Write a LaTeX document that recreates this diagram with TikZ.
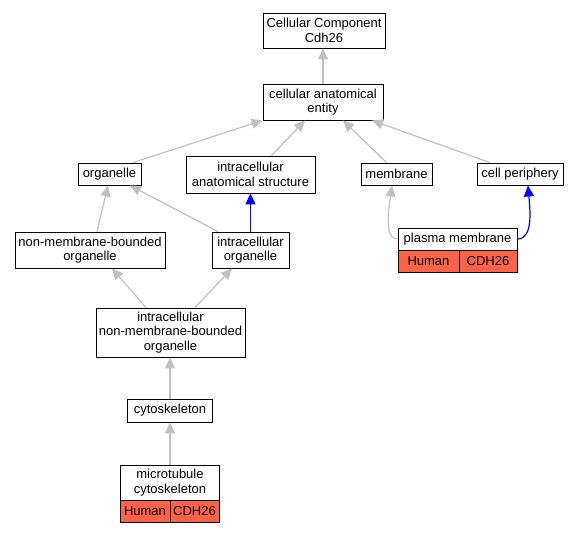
\documentclass[tikz,border=0pt]{standalone}
\usepackage{fontspec}
\setmainfont{Liberation Sans}
\usetikzlibrary{arrows.meta, positioning}
\definecolor{genred}{RGB}{255,99,71}
\definecolor{isagray}{RGB}{192,192,192}
\tikzset{
	term/.style={draw, line width=0.9pt, fill=white, inner sep=0pt, align=center, font=\fontsize{13}{14.5}\selectfont}, % Cajas de los terminos
	gen/.style={term, fill=genred}, % Celdas de la especie y el gen
	isa/.style={-{Triangle[length=11pt,width=10pt]}, draw=isagray, line width=1.2pt}, % Relacion is a
	partof/.style={isa, draw=blue} % Relacion part of
}

\begin{document}
\begin{tikzpicture}[x=1pt, y=-1pt]
	\useasboundingbox (0,0) rectangle (579,533);
	\node[term, minimum width=122pt, minimum height=35pt] (cc) at (324,30.5) {Cellular Component\\Cdh26};
	\node[term, minimum width=120pt, minimum height=36pt] (cae) at (323,102) {cellular anatomical\\entity};
	\node[term, minimum width=63pt, minimum height=22pt] (org) at (109.5,174) {organelle};
	\node[term, minimum width=129pt, minimum height=37pt] (ias) at (250.5,174.5) {intracellular\\anatomical structure};
	\node[term, minimum width=71pt, minimum height=22pt] (mem) at (396.5,174) {membrane};
	\node[term, minimum width=86pt, minimum height=22pt] (cp) at (520,174) {cell periphery};
	\node[term, minimum width=150pt, minimum height=36pt] (nmbo) at (90,250) {non-membrane-bounded\\organelle};
	\node[term, minimum width=77pt, minimum height=36pt] (io) at (250.5,250) {intracellular\\organelle};
	\node[term, minimum width=119pt, minimum height=22pt] (pm) at (457.5,239) {plasma membrane};
	\node[gen, minimum width=61pt, minimum height=22pt] (pmH) at (428.5,261) {Human};
	\node[gen, minimum width=58pt, minimum height=22pt] (pmG) at (488,261) {CDH26};
	\node[term, minimum width=149pt, minimum height=49pt] (inmbo) at (170.5,332.5) {intracellular\\non-membrane-bounded\\organelle};
	\node[term, minimum width=85pt, minimum height=23pt] (cyto) at (170,410.5) {cytoskeleton};
	\node[term, minimum width=99pt, minimum height=35pt] (mtc) at (170,482.5) {microtubule\\cytoskeleton};
	\node[gen, minimum width=50pt, minimum height=22pt] (mtcH) at (145,511) {Human};
	\node[gen, minimum width=49pt, minimum height=22pt] (mtcG) at (194.5,511) {CDH26};
	\draw[isa] (cae.north) -- (cae.north |- cc.south);
	\draw[isa] ([xshift=23.5pt]org.north) -- (cae.south west);
	\draw[isa] ([xshift=21pt]ias.north) -- ([xshift=-18pt]cae.south);
	\draw[isa] ([xshift=-10pt]mem.north) -- ([xshift=20pt]cae.south);
	\draw[isa] ([xshift=-30pt]cp.north) -- ([xshift=49pt]cae.south);
	\draw[isa] ([xshift=7pt]nmbo.north) -- ([xshift=-1.5pt]org.south);
	\draw[isa] ([xshift=-32.5pt]io.north) -- ([xshift=20.5pt]org.south);
	\draw[partof] (io.north) -- (ias.south);
	\draw[isa] ([xshift=-24.5pt]inmbo.north) -- ([xshift=22pt]nmbo.south);
	\draw[isa] ([xshift=24.5pt]inmbo.north) -- ([xshift=-18.5pt]io.south);
	\draw[isa] (cyto.north) -- (cyto.north |- inmbo.south);
	\draw[isa] (mtc.north) -- (cyto.south);
	\draw[isa] (pm.west) .. controls +(-14,0) and +(-3,22) .. ([xshift=-4.5pt]mem.south);
	\draw[partof] (pm.east) .. controls +(16,0) and +(2,24) .. ([xshift=8pt]cp.south);
\end{tikzpicture}
\end{document}
